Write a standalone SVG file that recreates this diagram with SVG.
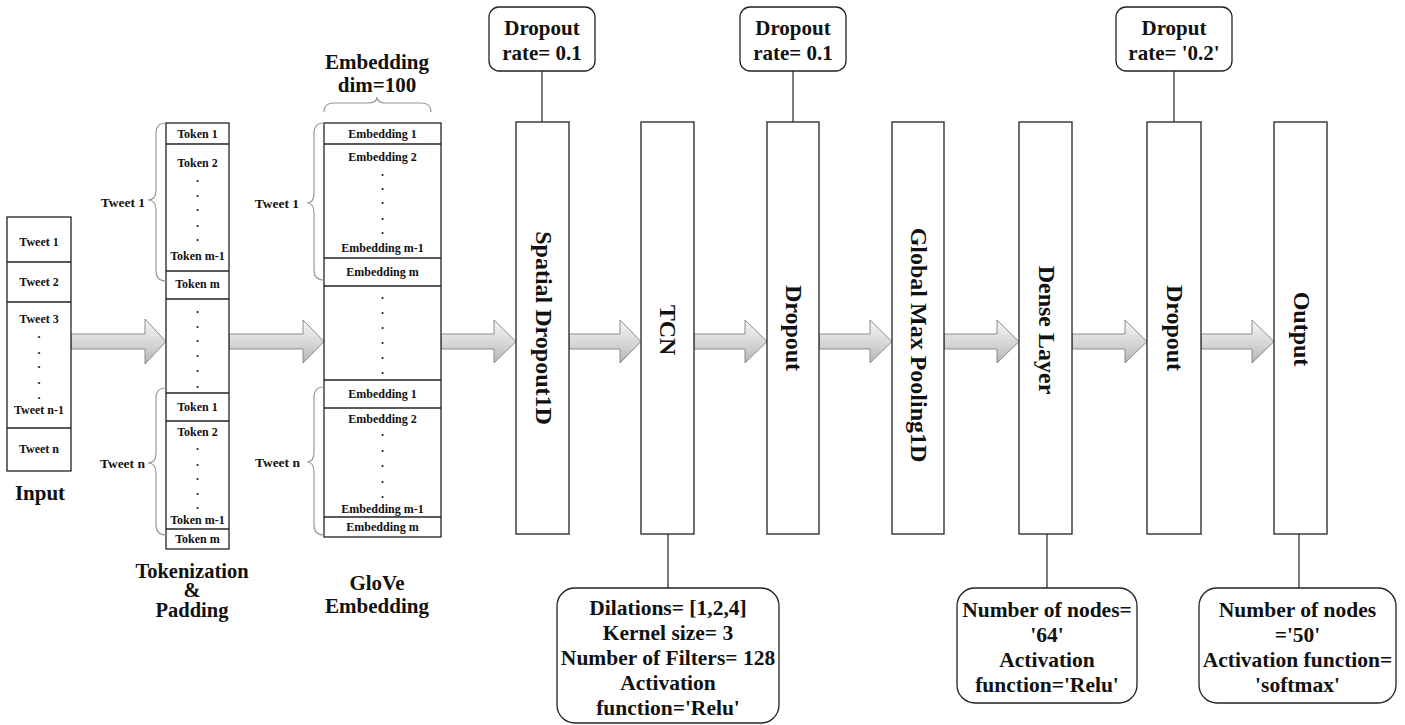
<svg xmlns="http://www.w3.org/2000/svg" width="1405" height="725" viewBox="0 0 1405 725">
  <style>
    .bx { fill: #fff; stroke: #222; stroke-width: 1.3; }
    .dv { stroke: #222; stroke-width: 1.3; }
    .rb { fill: #fff; stroke: #222; stroke-width: 1.3; }
    .ln { stroke: #333; stroke-width: 1.3; fill: none; }
    .br { stroke: #9a9a9a; stroke-width: 1.2; fill: none; }
    .ar { fill: url(#arrowFill); stroke: #8c8c8c; stroke-width: 1; }
    text { font-family: "Liberation Serif", "Times New Roman", serif; font-weight: bold; fill: #111; text-anchor: middle; }
    .s12 { font-size: 12px; }
    .s13 { font-size: 13.5px; text-anchor: end; }
    .s21 { font-size: 21px; }
    .s20 { font-size: 20.5px; }
    .s22 { font-size: 21.5px; }
    .v24 { font-size: 24px; }
  </style>
  <defs>
    <linearGradient id="arrowFill" x1="0" y1="0" x2="0" y2="1">
      <stop offset="0" stop-color="#f6f6f6"/>
      <stop offset="0.55" stop-color="#d6d6d6"/>
      <stop offset="1" stop-color="#b4b4b4"/>
    </linearGradient>
  </defs>

  <!-- flow arrows -->
  <g id="connectors">
    <path class="ar" d="M71,334 H145 V319 L166,341.5 L145,364 V349 H71 Z"/>
    <path class="ar" d="M229,334 H303 V320 L324,341.5 L303,363 V349 H229 Z"/>
    <path class="ar" d="M441,334 H494 V320 L516,341.5 L494,363 V349 H441 Z"/>
    <path class="ar" d="M569,334 H620 V320 L641,341.5 L620,363 V349 H569 Z"/>
    <path class="ar" d="M694,334 H745 V320 L767,341.5 L745,363 V349 H694 Z"/>
    <path class="ar" d="M819,334 H870 V320 L892,341.5 L870,363 V349 H819 Z"/>
    <path class="ar" d="M944,334 H997 V320 L1019,341.5 L997,363 V349 H944 Z"/>
    <path class="ar" d="M1072,334 H1125 V320 L1147,341.5 L1125,363 V349 H1072 Z"/>
    <path class="ar" d="M1201,334 H1252 V320 L1274,341.5 L1252,363 V349 H1201 Z"/>
    <!-- parameter leader lines -->
    <line class="ln" x1="542" y1="71" x2="542" y2="122"/>
    <line class="ln" x1="793" y1="71" x2="793" y2="122"/>
    <line class="ln" x1="1174" y1="71" x2="1174" y2="122"/>
    <line class="ln" x1="668" y1="534" x2="668" y2="588"/>
    <line class="ln" x1="1047" y1="534" x2="1047" y2="588"/>
    <line class="ln" x1="1299" y1="534" x2="1299" y2="588"/>
  </g>

  <!-- input tweets -->
  <g id="input">
    <rect class="bx" x="7" y="217" width="64" height="254"/>
    <line class="dv" x1="7" y1="262" x2="71" y2="262"/>
    <line class="dv" x1="7" y1="302" x2="71" y2="302"/>
    <line class="dv" x1="7" y1="428" x2="71" y2="428"/>
    <text class="s12" x="39" y="246">Tweet 1</text>
    <text class="s12" x="39" y="286">Tweet 2</text>
    <text class="s12" x="39" y="323">Tweet 3</text>
    <text class="s12" x="39" y="338">.</text>
    <text class="s12" x="39" y="354">.</text>
    <text class="s12" x="39" y="368">.</text>
    <text class="s12" x="39" y="384">.</text>
    <text class="s12" x="39" y="399">.</text>
    <text class="s12" x="39" y="414">Tweet n-1</text>
    <text class="s12" x="39" y="453">Tweet n</text>
    <text class="s21" x="40" y="500">Input</text>
  </g>

  <!-- tokenization and padding -->
  <g id="tokens">
    <rect class="bx" x="166" y="123" width="63" height="426"/>
    <line class="dv" x1="166" y1="144" x2="229" y2="144"/>
    <line class="dv" x1="166" y1="271" x2="229" y2="271"/>
    <line class="dv" x1="166" y1="299" x2="229" y2="299"/>
    <line class="dv" x1="166" y1="393" x2="229" y2="393"/>
    <line class="dv" x1="166" y1="421" x2="229" y2="421"/>
    <line class="dv" x1="166" y1="529" x2="229" y2="529"/>
    <text class="s12" x="197.5" y="138">Token 1</text>
    <text class="s12" x="197.5" y="167">Token 2</text>
    <text class="s12" x="197.5" y="182">.</text>
    <text class="s12" x="197.5" y="197">.</text>
    <text class="s12" x="197.5" y="211">.</text>
    <text class="s12" x="197.5" y="227">.</text>
    <text class="s12" x="197.5" y="241">.</text>
    <text class="s12" x="197.5" y="260">Token m-1</text>
    <text class="s12" x="197.5" y="288">Token m</text>
    <text class="s12" x="197.5" y="313">.</text>
    <text class="s12" x="197.5" y="328">.</text>
    <text class="s12" x="197.5" y="342">.</text>
    <text class="s12" x="197.5" y="357">.</text>
    <text class="s12" x="197.5" y="372">.</text>
    <text class="s12" x="197.5" y="388">.</text>
    <text class="s12" x="197.5" y="411">Token 1</text>
    <text class="s12" x="197.5" y="436">Token 2</text>
    <text class="s12" x="197.5" y="450">.</text>
    <text class="s12" x="197.5" y="466">.</text>
    <text class="s12" x="197.5" y="480">.</text>
    <text class="s12" x="197.5" y="495">.</text>
    <text class="s12" x="197.5" y="509">.</text>
    <text class="s12" x="197.5" y="524">Token m-1</text>
    <text class="s12" x="197.5" y="543">Token m</text>
    <path class="br" d="M166,123 Q156,123 156,133 V190 Q156,200 148,200 Q156,200 156,210 V271 Q156,281 166,281"/>
    <path class="br" d="M166,388 Q156,388 156,398 V453 Q156,463 148,463 Q156,463 156,473 V525 Q156,535 166,535"/>
    <text class="s13" x="145" y="207">Tweet 1</text>
    <text class="s13" x="145" y="468">Tweet n</text>
    <text class="s20" x="192" y="578">Tokenization</text>
    <text class="s20" x="192" y="597">&amp;</text>
    <text class="s20" x="192" y="617">Padding</text>
  </g>

  <!-- GloVe embedding -->
  <g id="embedding">
    <rect class="bx" x="324" y="123" width="117" height="414"/>
    <line class="dv" x1="324" y1="144" x2="441" y2="144"/>
    <line class="dv" x1="324" y1="258" x2="441" y2="258"/>
    <line class="dv" x1="324" y1="286" x2="441" y2="286"/>
    <line class="dv" x1="324" y1="380" x2="441" y2="380"/>
    <line class="dv" x1="324" y1="408" x2="441" y2="408"/>
    <line class="dv" x1="324" y1="517" x2="441" y2="517"/>
    <text class="s12" x="382.5" y="138">Embedding 1</text>
    <text class="s12" x="382.5" y="161">Embedding 2</text>
    <text class="s12" x="382.5" y="176">.</text>
    <text class="s12" x="382.5" y="190">.</text>
    <text class="s12" x="382.5" y="204">.</text>
    <text class="s12" x="382.5" y="220">.</text>
    <text class="s12" x="382.5" y="234">.</text>
    <text class="s12" x="382.5" y="252">Embedding m-1</text>
    <text class="s12" x="382.5" y="276">Embedding m</text>
    <text class="s12" x="382.5" y="299">.</text>
    <text class="s12" x="382.5" y="314">.</text>
    <text class="s12" x="382.5" y="329">.</text>
    <text class="s12" x="382.5" y="344">.</text>
    <text class="s12" x="382.5" y="359">.</text>
    <text class="s12" x="382.5" y="374">.</text>
    <text class="s12" x="382.5" y="398">Embedding 1</text>
    <text class="s12" x="382.5" y="423">Embedding 2</text>
    <text class="s12" x="382.5" y="436">.</text>
    <text class="s12" x="382.5" y="452">.</text>
    <text class="s12" x="382.5" y="467">.</text>
    <text class="s12" x="382.5" y="483">.</text>
    <text class="s12" x="382.5" y="498">.</text>
    <text class="s12" x="382.5" y="513">Embedding m-1</text>
    <text class="s12" x="382.5" y="531">Embedding m</text>
    <path class="br" d="M324,123 Q314,123 314,133 V193 Q314,203 307,203 Q314,203 314,213 V270 Q314,280 324,280"/>
    <path class="br" d="M324,387 Q314,387 314,397 V452 Q314,462 307,462 Q314,462 314,472 V525 Q314,535 324,535"/>
    <path class="br" d="M324,112 Q324,103 334,103 H368 Q377,103 377,97 Q377,103 386,103 H421 Q431,103 431,112"/>
    <text class="s13" x="299" y="208">Tweet 1</text>
    <text class="s13" x="300" y="467">Tweet n</text>
    <text class="s21" x="377" y="69">Embedding</text>
    <text class="s21" x="377" y="92">dim=100</text>
    <text class="s21" x="377" y="590">GloVe</text>
    <text class="s21" x="377" y="613">Embedding</text>
  </g>

  <!-- network layers -->
  <g id="spatial-dropout">
    <rect class="bx" x="516" y="122" width="53" height="412"/>
    <text class="v24" transform="translate(542.5,328) rotate(90)" y="7">Spatial  Dropout1D</text>
  </g>
  <g id="tcn">
    <rect class="bx" x="641" y="122" width="53" height="412"/>
    <text class="v24" transform="translate(667.5,330) rotate(90)" y="8">TCN</text>
  </g>
  <g id="dropout-1">
    <rect class="bx" x="767" y="122" width="52" height="412"/>
    <text class="v24" transform="translate(793,328) rotate(90)" y="7">Dropout</text>
  </g>
  <g id="global-max-pooling">
    <rect class="bx" x="892" y="122" width="52" height="412"/>
    <text class="v24" transform="translate(918,345) rotate(90)" y="7">Global Max Pooling1D</text>
  </g>
  <g id="dense">
    <rect class="bx" x="1019" y="122" width="53" height="412"/>
    <text class="v24" transform="translate(1045.5,330) rotate(90)" y="7">Dense Layer</text>
  </g>
  <g id="dropout-2">
    <rect class="bx" x="1147" y="122" width="54" height="412"/>
    <text class="v24" transform="translate(1174,328) rotate(90)" y="7">Dropout</text>
  </g>
  <g id="output">
    <rect class="bx" x="1274" y="122" width="53" height="412"/>
    <text class="v24" transform="translate(1300.5,329) rotate(90)" y="7">Output</text>
  </g>

  <!-- layer parameters -->
  <g id="param-spatial">
    <rect class="rb" x="489" y="7" width="106" height="64" rx="10"/>
    <text class="s21" x="542" y="35">Dropout</text>
    <text class="s21" x="542" y="60">rate= 0.1</text>
  </g>
  <g id="param-dropout-1">
    <rect class="rb" x="740" y="7" width="106" height="64" rx="10"/>
    <text class="s21" x="793" y="35">Dropout</text>
    <text class="s21" x="793" y="60">rate= 0.1</text>
  </g>
  <g id="param-dropout-2">
    <rect class="rb" x="1116" y="7" width="116" height="64" rx="10"/>
    <text class="s21" x="1174" y="35">Droput</text>
    <text class="s21" x="1174" y="60">rate= '0.2'</text>
  </g>
  <g id="param-tcn">
    <rect class="rb" x="557" y="588" width="222" height="135" rx="18"/>
    <text class="s22" x="668" y="615">Dilations= [1,2,4]</text>
    <text class="s22" x="668" y="640">Kernel size= 3</text>
    <text class="s22" x="668" y="665">Number of Filters= 128</text>
    <text class="s22" x="668" y="690">Activation</text>
    <text class="s22" x="668" y="715">function='Relu'</text>
  </g>
  <g id="param-dense">
    <rect class="rb" x="957" y="588" width="180" height="115" rx="18"/>
    <text class="s22" x="1047" y="617">Number of nodes=</text>
    <text class="s22" x="1047" y="642">'64'</text>
    <text class="s22" x="1047" y="667">Activation</text>
    <text class="s22" x="1047" y="692">function='Relu'</text>
  </g>
  <g id="param-output">
    <rect class="rb" x="1199" y="588" width="197" height="115" rx="18"/>
    <text class="s22" x="1297.5" y="617">Number of nodes</text>
    <text class="s22" x="1297.5" y="642">='50'</text>
    <text class="s22" x="1297.5" y="667">Activation function=</text>
    <text class="s22" x="1297.5" y="692">'softmax'</text>
  </g>
</svg>
